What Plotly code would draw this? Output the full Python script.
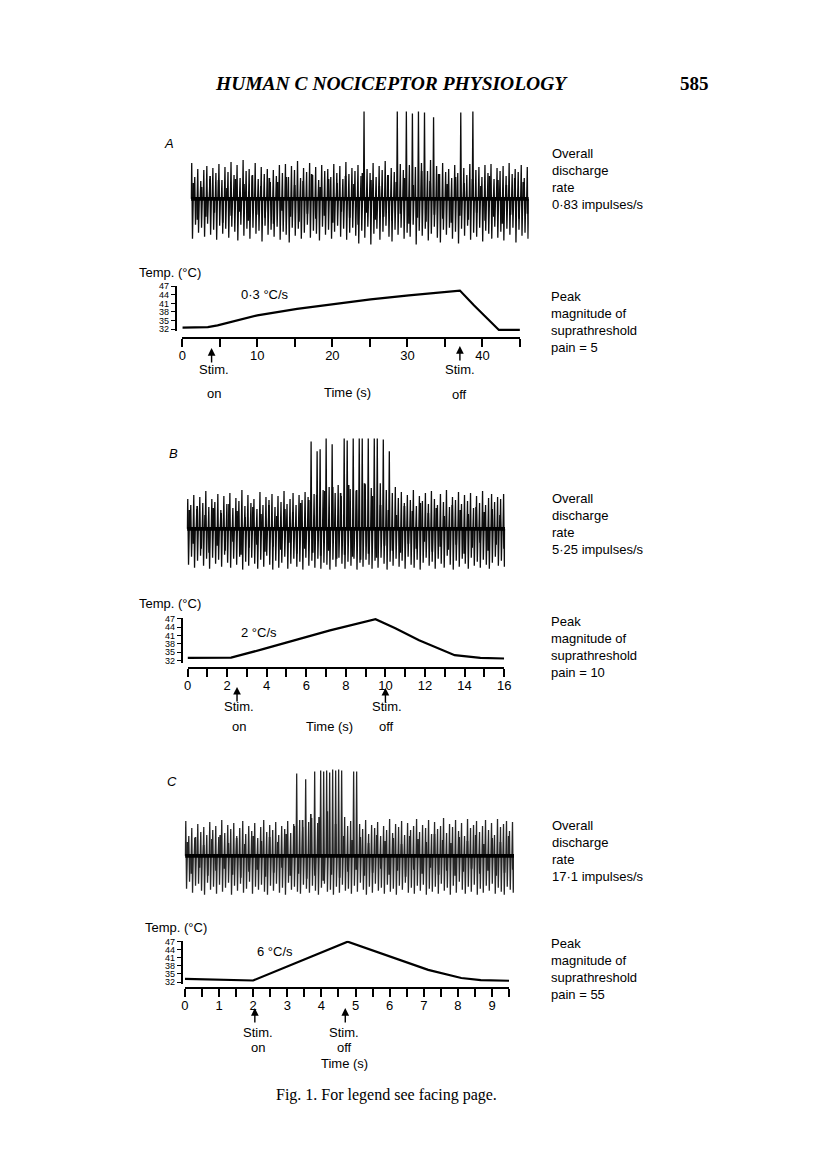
import plotly.graph_objects as go

PAGE_W, PAGE_H = 816, 1176
OFF = 8                      # browser body margin
W, H = PAGE_W - 2 * OFF, PAGE_H - 2 * OFF

# ---------------- data ----------------
# Neural recordings: per-spike upward / downward deflections (arbitrary units)
A_up = [3.6, 2.2, 3.0, 1.8, 2.9, 3.3, 2.0, 3.1, 2.6, 3.5, 1.9, 3.2, 2.7, 3.7,
        2.4, 3.4, 2.1, 3.9, 2.8, 3.0, 2.3, 3.6, 2.0, 3.2, 2.5, 3.0, 1.7, 2.9,
        2.3, 3.4, 2.6, 3.5, 2.2, 3.3, 2.9, 3.8, 2.1, 3.1, 2.7, 3.6, 2.4, 3.2,
        1.9, 3.4, 2.8, 3.0, 2.2, 3.5, 2.6, 3.3, 2.0, 3.7, 2.5, 3.1, 2.8, 3.4,
        2.3, 8.8, 3.0, 2.6, 3.6, 2.2, 3.3, 2.9, 3.8, 2.4, 3.1, 2.7, 8.8, 3.5,
        2.9, 8.8, 3.4, 8.6, 3.2, 8.8, 3.6, 8.7, 2.8, 3.9, 8.2, 3.3, 2.5, 3.6,
        2.7, 3.0, 2.1, 3.4, 2.6, 8.7, 3.1, 2.4, 3.5, 8.8, 2.9, 3.2, 2.2, 3.4,
        2.6, 3.5, 2.0, 3.1, 2.8, 3.3, 2.3, 3.6, 2.5, 3.0, 2.7, 3.4, 2.1, 3.2]
A_dn = [4.0, 2.6, 3.4, 2.9, 3.8, 2.5, 3.6, 3.1, 4.1, 2.7, 3.5, 3.0, 3.9, 2.8,
        3.3, 4.2, 2.6, 3.7, 3.0, 4.0, 2.9, 3.5, 3.2, 4.3, 2.7, 3.6, 3.1, 3.8,
        2.8, 4.1, 3.3, 3.6, 4.4, 2.9, 3.7, 3.0, 4.0, 3.4, 2.6, 3.9, 3.2, 3.5,
        4.2, 2.8, 3.6, 3.1, 4.0, 3.3, 2.7, 3.8, 3.0, 4.1, 3.4, 2.9, 3.7, 4.5,
        3.2, 3.9, 2.8, 4.6, 3.5, 3.0, 4.1, 3.3, 2.7, 3.8, 4.3, 3.1, 3.6, 2.9,
        4.0, 3.4, 3.8, 2.6, 4.6, 3.2, 3.7, 3.0, 4.2, 3.5, 2.8, 3.9, 4.4, 3.1,
        3.6, 2.9, 4.0, 3.3, 4.5, 3.0, 3.7, 2.7, 4.1, 3.4, 3.8, 2.9, 4.3, 3.2,
        3.5, 4.0, 2.8, 3.9, 3.3, 4.2, 3.0, 3.6, 2.9, 4.4, 3.1, 3.7, 3.4, 4.0]
A_noise = [1.6, -2.1, 1.2, -1.8, 2.3, -1.4, 1.9, -2.4, 1.1, -1.7, 2.0, -1.3, 1.5, -2.2, 2.4, -1.6,
           1.3, -1.9, 2.1, -2.5, 1.7, -1.2, 2.2, -1.8, 1.4, -2.3, 1.8, -1.5, 2.5, -2.0, 1.2, -1.7,
           2.0, -2.4, 1.6, -1.3, 2.3, -1.9, 1.5, -2.6, 2.6, -1.4, 1.9, -2.1, 1.3, -1.8, 2.4, -2.2,
           1.7, -1.5, 2.1, -2.5, 1.4, -1.9, 2.8, -2.3, 1.8, -1.6, 2.5, -2.0, 1.5, -2.4, 2.2, -1.7,
           1.6, -2.1, 2.0, -1.4, 1.3, -2.2, 2.3, -1.8, 1.9, -2.5, 1.4, -1.6, 2.1, -2.0, 1.7, -1.5]

B_up = [3.0, 2.4, 3.4, 2.0, 3.2, 2.6, 3.8, 2.2, 3.0, 2.7, 3.5, 1.9, 3.3, 2.5,
        3.6, 2.1, 3.1, 2.8, 3.9, 2.3, 3.4, 2.6, 3.0, 2.0, 3.7, 2.4, 3.2, 2.9,
        3.5, 2.2, 3.3, 2.7, 3.8, 2.5, 3.0, 3.6, 2.4, 3.4, 2.9, 3.7, 3.2, 8.8,
        3.5, 7.8, 8.0, 3.9, 9.1, 4.2, 8.5, 3.6, 4.4, 3.3, 9.1, 8.9, 4.0, 9.1,
        3.8, 9.1, 9.1, 4.5, 9.1, 4.1, 9.1, 9.1, 4.6, 9.0, 3.9, 7.8, 3.6, 4.2,
        3.1, 3.7, 2.6, 3.4, 2.9, 3.9, 2.3, 3.3, 2.8, 3.6, 2.5, 3.8, 3.0, 2.4,
        3.5, 2.7, 3.9, 2.2, 3.2, 2.9, 3.7, 2.5, 3.4, 2.8, 3.6, 2.1, 3.3, 2.6,
        3.8, 2.4, 3.1, 3.5, 2.7, 3.2, 3.0, 3.5]
B_dn = [3.6, 2.8, 3.9, 3.2, 2.7, 3.7, 3.0, 4.0, 2.9, 3.5, 3.1, 3.8, 2.6, 3.4,
        3.9, 3.0, 3.6, 2.8, 4.1, 3.3, 3.7, 2.9, 3.5, 4.0, 3.1, 3.8, 2.7, 3.6,
        4.1, 3.2, 3.9, 3.4, 2.8, 4.0, 3.5, 3.0, 3.8, 3.3, 4.1, 2.9, 3.7, 3.2,
        3.9, 3.0, 4.0, 3.4, 3.6, 4.1, 3.1, 3.8, 2.9, 3.5, 4.0, 3.3, 3.7, 3.0,
        4.1, 3.4, 3.8, 3.1, 3.6, 4.0, 3.2, 3.9, 2.9, 3.5, 4.1, 3.3, 3.7, 3.0,
        3.8, 3.2, 4.0, 2.8, 3.6, 3.9, 3.1, 4.1, 3.4, 2.9, 3.7, 3.3, 4.0, 3.0,
        3.5, 3.9, 2.7, 3.6, 4.1, 3.2, 3.8, 3.0, 3.5, 4.0, 2.9, 3.7, 3.3, 3.9,
        3.1, 3.6, 4.0, 3.4, 2.8, 3.7, 3.2, 3.8]
B_noise = [1.9, -1.5, 2.3, -2.0, 1.4, -2.4, 2.1, -1.7, 1.6, -2.2, 2.5, -1.3, 1.8, -2.6, 1.2, -1.9,
           2.2, -1.6, 1.5, -2.3, 2.4, -1.8, 1.3, -2.1, 2.0, -1.4, 1.7, -2.5, 2.6, -2.0, 2.9, -2.4,
           3.4, -2.7, 3.8, -2.2, 4.2, -3.0, 3.6, -2.6, 4.4, -2.8, 3.9, -3.1, 4.6, -2.5, 3.3, -2.9,
           2.4, -1.7, 1.9, -2.2, 1.4, -2.4, 2.3, -1.5, 1.8, -2.0, 2.6, -1.3, 1.6, -2.3, 2.1, -1.8,
           1.3, -2.1, 2.4, -1.6, 1.9, -2.5, 1.5, -1.9, 2.2, -1.4, 1.7, -2.2, 2.0, -1.6, 1.4, -2.0]

C_up = [3.5, 2.0, 2.8, 1.8, 3.2, 2.4, 2.9, 2.1, 3.4, 2.6, 3.0, 1.9, 3.6, 2.3,
        3.1, 2.7, 3.3, 2.0, 2.8, 3.5, 2.2, 3.0, 2.5, 3.3, 1.8, 2.9, 3.6, 2.4,
        3.1, 2.6, 3.4, 2.1, 3.0, 2.7, 3.5, 2.3, 3.2, 8.3, 3.6, 2.9, 7.7, 3.4,
        3.8, 8.5, 3.3, 8.6, 8.5, 8.6, 8.4, 8.7, 8.6, 8.7, 8.6, 3.9, 3.0, 3.5,
        8.5, 8.5, 3.2, 2.7, 3.6, 2.2, 3.1, 2.8, 3.4, 2.0, 3.0, 2.6, 3.7, 2.3,
        3.2, 2.9, 3.5, 2.1, 3.3, 2.6, 3.0, 3.7, 2.4, 3.1, 2.8, 3.6, 2.2, 3.4,
        2.7, 3.0, 3.8, 2.3, 3.2, 2.9, 3.6, 2.5, 3.3, 2.0, 3.7, 2.8, 3.1, 3.5,
        2.4, 3.0, 3.6, 2.6, 3.3, 2.1, 3.7, 2.9, 3.2, 3.5, 2.5, 3.4]
C_dn = [3.3, 2.6, 3.7, 3.0, 2.8, 3.5, 3.9, 2.7, 3.4, 3.1, 3.8, 2.9, 3.6, 3.2,
        2.7, 3.9, 3.0, 3.5, 2.8, 3.7, 3.3, 2.6, 3.8, 3.1, 3.4, 2.9, 3.6, 3.9,
        3.0, 3.5, 2.8, 3.7, 3.2, 3.9, 2.7, 3.4, 3.1, 3.6, 3.8, 2.9, 3.3, 3.7,
        3.0, 3.5, 3.9, 3.2, 2.8, 3.6, 3.4, 3.9, 3.1, 3.7, 2.9, 3.5, 3.3, 3.8,
        3.0, 3.6, 2.7, 3.4, 3.9, 3.1, 3.7, 2.8, 3.5, 3.2, 3.8, 2.9, 3.6, 3.3,
        3.9, 3.0, 3.4, 2.7, 3.7, 3.2, 3.8, 3.0, 3.5, 2.9, 3.9, 3.3, 3.6, 3.1,
        3.8, 2.8, 3.5, 3.2, 3.9, 3.0, 3.7, 2.6, 3.4, 3.8, 3.1, 3.6, 2.9, 3.9,
        3.3, 3.7, 3.0, 3.5, 2.8, 3.8, 3.2, 3.6, 3.9, 3.1, 3.4, 3.7]
C_noise = [1.4, -1.8, 1.9, -1.2, 1.1, -2.0, 1.7, -1.5, 2.1, -1.3, 1.3, -1.9, 1.8, -2.2, 1.2, -1.6,
           2.0, -1.4, 1.5, -2.1, 1.9, -1.7, 1.4, -1.2, 2.2, -2.0, 3.0, -1.8, 3.6, -2.3, 4.2, -2.0,
           3.9, -2.5, 4.5, -1.9, 3.2, -2.2, 2.0, -1.6, 1.6, -1.4, 1.9, -2.0, 1.3, -1.7, 2.1, -1.3,
           1.5, -1.9, 1.8, -1.5, 1.2, -2.1, 2.0, -1.4, 1.7, -1.8, 1.4, -1.2, 2.2, -1.9, 1.6, -1.5,
           1.3, -2.0, 1.9, -1.6, 1.5, -1.3, 2.1, -1.8, 1.2, -1.5, 1.8, -2.0, 1.4, -1.7, 2.0, -1.4]

# Temperature ramps (time s, temperature degC)
A_t = [0, 3.4, 4.7, 10, 15.3, 20.1, 25.1, 30.2, 37, 38.9, 40.5, 42.2, 45]
A_T = [32.5, 32.7, 33.3, 36.8, 39.1, 40.8, 42.4, 43.8, 45.5, 40.3, 36.2, 31.7, 31.7]
B_t = [0, 2.2, 3.9, 7.2, 9.5, 10.5, 11.7, 13.5, 14.8, 16]
B_T = [33.0, 33.1, 36.3, 42.8, 46.8, 43.6, 39.3, 34.0, 33.0, 32.8]
C_t = [0, 2.0, 4.77, 6.17, 7.13, 8.1, 8.67, 9.5]
C_T = [33.2, 32.6, 46.9, 40.8, 36.5, 33.5, 32.7, 32.5]

# Stimulus on / off times (s)
A_stim = [3.9, 37.0]
B_stim = [2.5, 10.0]
C_stim = [2.05, 4.7]

# Axis ticks
temp_ticks = [32, 35, 38, 41, 44, 47]
A_xticks = [0, 5, 10, 15, 20, 25, 30, 35, 40, 45]
A_xlabels = ['0', '', '10', '', '20', '', '30', '', '40', '']
B_xticks = list(range(0, 17))
B_xlabels = [str(v) if v % 2 == 0 else '' for v in B_xticks]
C_xticks = [0, 0.5, 1, 1.5, 2, 2.5, 3, 3.5, 4, 4.5, 5, 5.5, 6, 6.5, 7, 7.5, 8, 8.5, 9, 9.5]
C_xlabels = ['0', '', '1', '', '2', '', '3', '', '4', '', '5', '', '6', '', '7', '', '8', '', '9', '']

rate_texts = ['0·83 impulses/s', '5·25 impulses/s', '17·1 impulses/s']
pain_texts = ['pain = 5', 'pain = 10', 'pain = 55']
ramp_texts = ['0·3 °C/s', '2 °C/s', '6 °C/s']

# ---------------- helpers (page pixel -> paper fraction) ----------------
def fx(p):
    return (p - OFF) / W


def fy(p):
    return 1 - (p - OFF) / H


SANS = 'Liberation Sans, Arial, sans-serif'
SERIF = 'Liberation Serif, Times New Roman, serif'

fig = go.Figure()
layout = dict(width=W, height=H, margin=dict(l=0, r=0, t=0, b=0, pad=0),
              paper_bgcolor='white', plot_bgcolor='white', showlegend=False)
annotations = []


def txt(x, y, text, size=13, family=SANS, xa='center', ya='middle', align='center'):
    annotations.append(dict(x=fx(x), y=fy(y), xref='paper', yref='paper', text=text,
                            showarrow=False, xanchor=xa, yanchor=ya, align=align,
                            font=dict(family=family, size=size, color='#000')))


panels = [
    dict(up=A_up, dn=A_dn, noise=A_noise, tx0=189, tx1=532, base=196, color='#0d0d0d',
         t=A_t, T=A_T, stim=A_stim, xt=A_xticks, xl=A_xlabels, tmax=45,
         cx0=180.7, cx1=523, axy=336, ylx=174, p32=327, p47=284,
         letter=('A', 167, 140), templab=(168, 270), ramp=(265, 292),
         stim_tip=[346, 344], stim_txt=[(213, 368, 392), (462, 368, 393)],
         timelab=(348, 391), rtop=(553, 141), ptop=(552, 285)),
    dict(up=B_up, dn=B_dn, noise=B_noise, tx0=185, tx1=508, base=528, color='#0d0d0d',
         t=B_t, T=B_T, stim=B_stim, xt=B_xticks, xl=B_xlabels, tmax=16,
         cx0=186, cx1=507, axy=668, ylx=180, p32=660.7, p47=618.3,
         letter=('B', 172, 452), templab=(168, 603), ramp=(258, 632),
         stim_tip=[687, 688], stim_txt=[(238, 707, 727), (388, 707, 727)],
         timelab=(330, 727), rtop=(553, 488), ptop=(552, 612)),
    dict(up=C_up, dn=C_dn, noise=C_noise, tx0=183, tx1=517, base=857, color='#262626',
         t=C_t, T=C_T, stim=C_stim, xt=C_xticks, xl=C_xlabels, tmax=9.5,
         cx0=183.3, cx1=512, axy=990, ylx=180, p32=984, p47=943,
         letter=('C', 170, 782), templab=(174, 929), ramp=(275, 953),
         stim_tip=[1010, 1010], stim_txt=[(257, 1035, 1050), (345, 1035, 1050)],
         timelab=(345, 1066), rtop=(553, 817), ptop=(552, 936)),
]

for k, P in enumerate(panels):
    ia = 2 * k + 1
    ib = 2 * k + 2
    xa = 'x' if ia == 1 else f'x{ia}'
    ya = 'y' if ia == 1 else f'y{ia}'
    xb, yb = f'x{ib}', f'y{ib}'

    # ---- neural recording ----
    n = len(P['up'])
    xs, ys = [], []
    for i in range(n):
        xs += [i, i + 0.2, i + 0.45, i + 0.7]
        ys += [0, P['up'][i], -P['dn'][i], 0]
    fig.add_trace(go.Scatter(x=xs, y=ys, mode='lines', xaxis=xa, yaxis=ya,
                             line=dict(color=P['color'], width=1.3), hoverinfo='skip'))
    m = len(P['noise'])
    step = n / m
    nx, ny = [], []
    for j, v in enumerate(P['noise']):
        x0 = 0.55 + j * step
        nx += [x0, x0 + 0.12, x0 + 0.24]
        ny += [0, v, 0]
    fig.add_trace(go.Scatter(x=nx, y=ny, mode='lines', xaxis=xa, yaxis=ya,
                             line=dict(color=P['color'], width=1.7), hoverinfo='skip'))
    fig.add_trace(go.Scatter(x=[0, n - 0.3], y=[0, 0], mode='lines', xaxis=xa, yaxis=ya,
                             line=dict(color='#000', width=3.6), hoverinfo='skip'))
    top, bot = P['base'] - 100, P['base'] + 54
    layout['xaxis' if ia == 1 else f'xaxis{ia}'] = dict(
        domain=[fx(P['tx0']), fx(P['tx1'])], range=[-0.2, n - 0.3], visible=False,
        anchor=ya)
    layout['yaxis' if ia == 1 else f'yaxis{ia}'] = dict(
        domain=[fy(bot), fy(top)], range=[-(bot - P['base']) / 10, (P['base'] - top) / 10],
        visible=False, anchor=xa)

    # ---- temperature ramp ----
    fig.add_trace(go.Scatter(x=P['t'], y=P['T'], mode='lines', xaxis=xb, yaxis=yb,
                             line=dict(color='#000', width=2.2), hoverinfo='skip'))
    s = (P['p32'] - P['p47']) / 15.0
    lo, hi = 31.3, 47.2
    p_lo = P['p32'] + (32 - lo) * s
    p_hi = P['p47'] - (hi - 47) * s
    layout[f'xaxis{ib}'] = dict(
        domain=[fx(P['cx0']), fx(P['cx1'])], range=[0, P['tmax']],
        anchor='free', position=fy(P['axy']), showgrid=False, zeroline=False,
        showline=True, linecolor='#000', linewidth=2,
        ticks='outside', ticklen=8, tickwidth=1.6, tickcolor='#000',
        ticklabelstandoff=-3,
        tickmode='array', tickvals=P['xt'], ticktext=P['xl'],
        tickfont=dict(family=SANS, size=13, color='#000'))
    layout[f'yaxis{ib}'] = dict(
        domain=[fy(p_lo), fy(p_hi)], range=[lo, hi],
        anchor='free', position=fx(P['ylx']), showgrid=False, zeroline=False,
        showline=True, linecolor='#000', linewidth=1.6,
        ticks='outside', ticklen=4, tickwidth=1.3, tickcolor='#000',
        tickmode='array', tickvals=temp_ticks,
        tickfont=dict(family=SANS, size=9, color='#000'))

    # ---- stimulus arrows ----
    for j, tt in enumerate(P['stim']):
        tip = P['stim_tip'][j]
        annotations.append(dict(x=tt, y=fy(tip), xref=xb, yref='paper', text='',
                                showarrow=True, ax=0, ay=16, axref='pixel', ayref='pixel',
                                arrowhead=2, arrowsize=1.1, arrowwidth=1.4, arrowcolor='#000'))
        tx, y1, y2 = P['stim_txt'][j]
        txt(tx, y1, 'Stim.')
        txt(tx, y2, 'on' if j == 0 else 'off')

    txt(P['timelab'][0], P['timelab'][1], 'Time (s)')
    txt(P['templab'][0], P['templab'][1], 'Temp. (°C)')
    txt(P['ramp'][0], P['ramp'][1], ramp_texts[k])
    L, lx, ly = P['letter']
    txt(lx, ly, f'<i>{L}</i>')
    txt(P['rtop'][0], P['rtop'][1], 'Overall<br>discharge<br>rate<br>' + rate_texts[k],
        xa='left', ya='top', align='left')
    txt(P['ptop'][0], P['ptop'][1], 'Peak<br>magnitude of<br>suprathreshold<br>' + pain_texts[k],
        xa='left', ya='top', align='left')

# header and caption
txt(393, 80, '<b><i>HUMAN C NOCICEPTOR PHYSIOLOGY</i></b>', size=19.5, family=SERIF)
txt(700, 80, '<b>585</b>', size=19, family=SERIF)
txt(388, 1098, 'Fig. 1. For legend see facing page.', size=16, family=SERIF)

layout['annotations'] = annotations
fig.update_layout(**layout)
fig.write_html('out.html')
